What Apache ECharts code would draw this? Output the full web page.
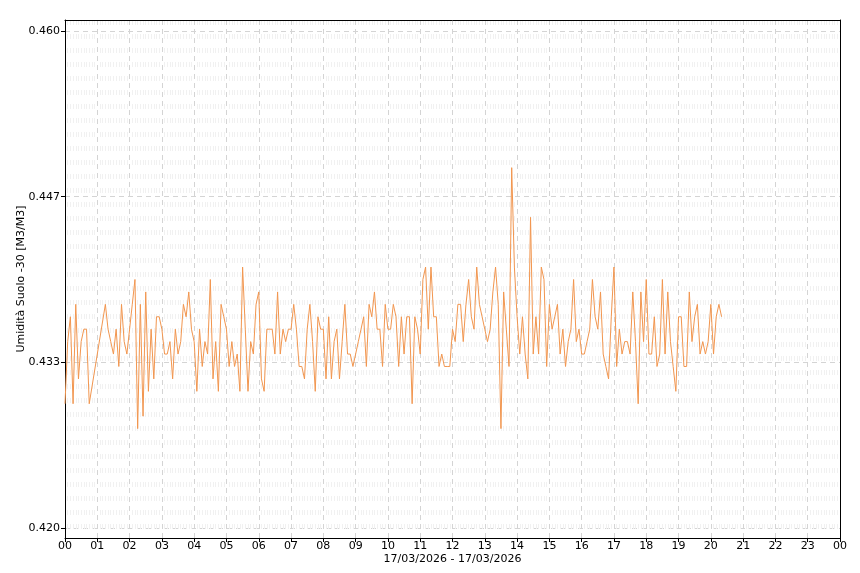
<!DOCTYPE html>
<html>
<head>
<meta charset="utf-8">
<script src="https://cdn.jsdelivr.net/npm/echarts@6/dist/echarts.min.js"></script>
<style>html,body{margin:0;padding:0;background:#fff}#c{width:860px;height:573px}</style>
</head>
<body>
<div id="c"></div>
<script>
// 5-minute readings starting at 00:00 (null = missing reading)
const stepMinutes = 5;
const values = [
0.430,0.435,0.437,0.430,0.438,0.432,0.435,0.436,0.436,0.430,
null,null,null,null,null,0.438,0.436,0.435,0.434,0.436,
0.433,0.438,0.435,0.434,0.436,0.438,0.440,0.428,0.438,0.429,
0.439,0.431,0.436,0.432,0.437,0.437,0.436,0.434,0.434,0.435,
0.432,0.436,0.434,0.435,0.438,0.437,0.439,0.436,0.435,0.431,
0.436,0.433,0.435,0.434,0.440,0.432,0.435,0.431,0.438,0.437,
0.436,0.433,0.435,0.433,0.434,0.431,0.441,0.436,0.431,0.435,
0.434,0.438,0.439,0.432,0.431,0.436,0.436,0.436,0.434,0.439,
0.434,0.436,0.435,0.436,0.436,0.438,0.436,0.433,0.433,0.432,
0.436,0.438,0.435,0.431,0.437,0.436,0.436,0.432,0.437,0.432,
0.435,0.436,0.432,0.435,0.438,0.434,0.434,0.433,0.434,0.435,
0.436,0.437,0.433,0.438,0.437,0.439,0.436,0.436,0.433,0.438,
0.436,0.436,0.438,0.437,0.433,0.437,0.434,0.437,0.437,0.430,
0.437,0.436,0.434,0.440,0.441,0.436,0.441,0.437,0.437,0.433,
0.434,0.433,0.433,0.433,0.436,0.435,0.438,0.438,0.435,0.438,
0.440,0.437,0.436,0.441,0.438,0.437,0.436,0.435,0.436,0.439,
0.441,0.438,0.428,0.439,0.436,0.433,0.449,0.441,0.437,0.434,
0.437,0.434,0.432,0.445,0.434,0.437,0.434,0.441,0.440,0.433,
0.438,0.436,0.437,0.438,0.434,0.436,0.433,0.435,0.436,0.440,
0.435,0.436,0.434,0.434,0.435,0.436,0.440,0.437,0.436,0.439,
0.434,0.433,0.432,0.437,0.441,0.433,0.436,0.434,0.435,0.435,
0.434,0.439,0.435,0.430,0.439,0.435,0.440,0.434,0.434,0.437,
0.433,0.434,0.440,0.434,0.439,0.435,0.433,0.431,0.437,0.437,
0.433,0.433,0.439,0.435,0.437,0.438,0.434,0.435,0.434,0.435,
0.438,0.434,0.437,0.438,0.437
];
const yTickValues = [0.420, 0.4333333, 0.4466667, 0.460];
const yTickLabels = ['0.420', '0.433', '0.447', '0.460'];
const hourLabels = ['00','01','02','03','04','05','06','07','08','09','10','11','12','13','14','15','16','17','18','19','20','21','22','23','00'];
const yName = 'Umidità Suolo -30 [M3/M3]';
const xName = '17/03/2026 - 17/03/2026';

const seriesData = values.map((v, i) => [i * stepMinutes / 60, v]);
const font = 'DejaVu Sans';
const yMin = 0.419195, yMax = 0.460885;

const chart = echarts.init(document.getElementById('c'), null, {renderer: 'canvas'});
chart.setOption({
  animation: false,
  backgroundColor: '#fff',
  grid: {left: 65, right: 20, top: 20, bottom: 35, show: false},
  xAxis: [{
    type: 'value', min: 0, max: 24, interval: 1,
    name: xName, nameLocation: 'middle', nameGap: 16, nameMoveOverlap: false,
    nameTextStyle: {fontFamily: font, fontSize: 11, color: '#000'},
    axisLine: {show: true, onZero: false, lineStyle: {color: '#000', width: 1}},
    axisTick: {show: true, length: 4, lineStyle: {color: '#000'}},
    axisLabel: {fontFamily: font, fontSize: 11, color: '#000', margin: 3,
      formatter: v => hourLabels[Math.round(v)]},
    splitLine: {show: true, showMinLine: false, showMaxLine: false, lineStyle: {color: '#d4d4d4', type: [5, 4], width: 1}},
    minorTick: {show: false, splitNumber: 12},
    minorSplitLine: {show: true, lineStyle: {color: '#f1f1f1', type: [5, 9], width: 1}}
  }, {
    type: 'value', min: 0, max: 24, position: 'top', z: 10,
    axisLine: {show: true, onZero: false, lineStyle: {color: '#000', width: 1}},
    axisTick: {show: false}, axisLabel: {show: false}, splitLine: {show: false}
  }],
  yAxis: [{
    type: 'value', min: yMin, max: yMax,
    name: yName, nameLocation: 'middle', nameGap: 38, nameRotate: 90, nameMoveOverlap: false,
    nameTextStyle: {fontFamily: font, fontSize: 11, color: '#000'},
    axisLine: {show: true, onZero: false, lineStyle: {color: '#000', width: 1}},
    axisTick: {show: true, length: 4, inside: false, customValues: yTickValues, lineStyle: {color: '#000'}},
    axisLabel: {fontFamily: font, fontSize: 11, color: '#000', margin: 5, customValues: yTickValues,
      formatter: v => { const k = yTickValues.findIndex(t => Math.abs(t - v) < 1e-6); return k >= 0 ? yTickLabels[k] : ''; }},
    splitLine: {show: true, lineStyle: {color: '#d4d4d4', type: [5, 4], width: 1}}
  }, {
    type: 'value', min: yMin, max: yMax, position: 'right', z: 10,
    axisLine: {show: true, onZero: false, lineStyle: {color: '#000', width: 1}},
    axisTick: {show: false}, axisLabel: {show: false}, splitLine: {show: false}
  }],
  series: [{
    type: 'line', data: seriesData, showSymbol: false, connectNulls: true,
    xAxisIndex: 0, yAxisIndex: 0,
    lineStyle: {color: '#f2964f', width: 1}, itemStyle: {color: '#f2964f'}
  }]
});
</script>
</body>
</html>
